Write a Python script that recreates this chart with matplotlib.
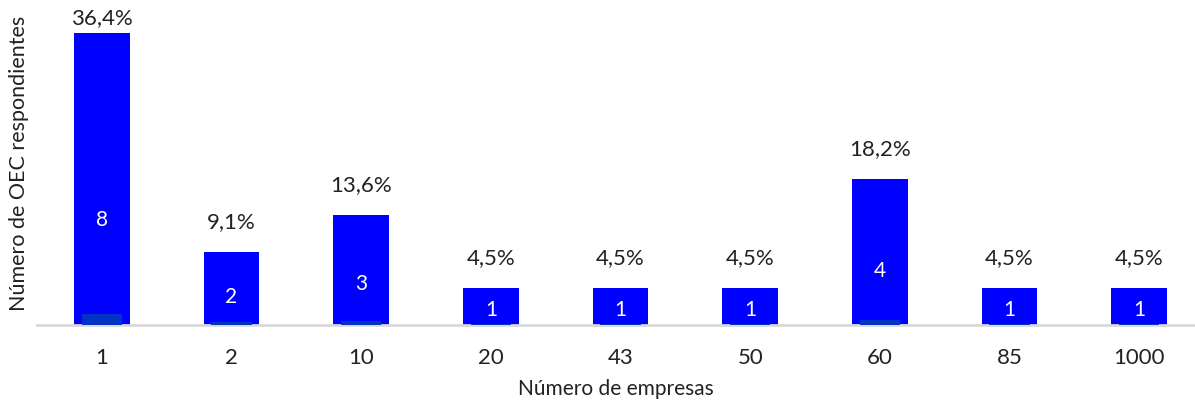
import matplotlib.pyplot as plt

plt.rcParams['font.family'] = ['Lato', 'DejaVu Sans']

# Datos
empresas = ['1', '2', '10', '20', '43', '50', '60', '85', '1000']
respondientes = [8, 2, 3, 1, 1, 1, 4, 1, 1]
porcentaje = [36.4, 9.1, 13.6, 4.5, 4.5, 4.5, 18.2, 4.5, 4.5]

fig = plt.figure(figsize=(11.95, 4.02), dpi=100)
ax = fig.add_axes([37 / 1195, 76 / 402, 1158 / 1195, 326 / 402])

x = range(len(empresas))
ax.bar(x, respondientes, width=0.43, color='#0000FF', zorder=2)
# serie de porcentajes (en fracción) dibujada sobre el mismo eje
ax.bar(x, [p / 100 * 0.8 for p in porcentaje], width=0.31, color='#0033C4', zorder=3)

for i, (v, p) in enumerate(zip(respondientes, porcentaje)):
    ax.text(i, v * 0.35 + 0.1, str(v), color='white', ha='center', va='center',
            fontsize=15, zorder=4)
    ax.text(i, min(v + 0.85, 8.43), f'{p:.1f}%'.replace('.', ','), color='#222222',
            ha='center', va='center', fontsize=16)

ax.set_xlim(-0.5, 8.43)
ax.set_ylim(0, 8.93)
ax.set_xticks(list(x))
ax.set_xticklabels(empresas, fontsize=16, color='#222222')
ax.tick_params(axis='x', length=0, pad=16)
ax.set_yticks([])
for s in ['top', 'right', 'left']:
    ax.spines[s].set_visible(False)
ax.spines['bottom'].set_color('#d9d9d9')
ax.spines['bottom'].set_linewidth(2)

ax.set_xlabel('Número de empresas', fontsize=15, color='#222222', labelpad=8)
ax.set_ylabel('Número de OEC respondientes', fontsize=15.5, color='#222222', labelpad=6)

fig.savefig('out.png', dpi=100)
